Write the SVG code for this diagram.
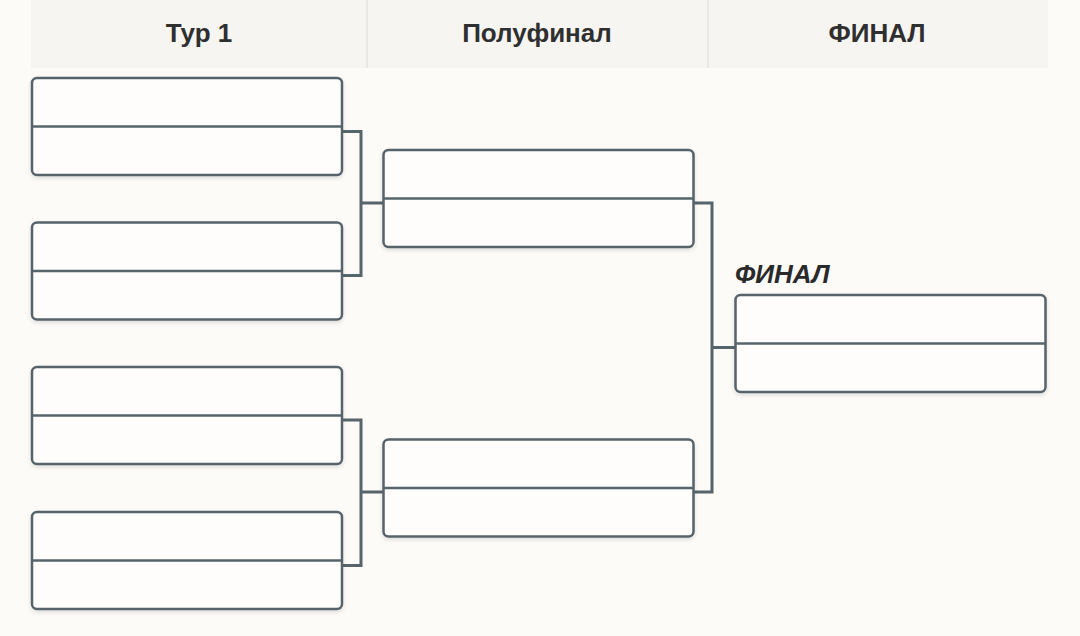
<svg xmlns="http://www.w3.org/2000/svg" width="1080" height="636" viewBox="0 0 1080 636">
<style>
.hdr{fill:#f7f5f2}
.sep{stroke:#e6e3df;stroke-width:1.5}
.ht{font-family:"Liberation Sans",Arial,sans-serif;font-weight:bold;font-size:26px;fill:#2f2f2f;text-anchor:middle}
.box{fill:#fefdfb;stroke:#56646b;stroke-width:2.5}
.div{stroke:#56646b;stroke-width:2.5}
.con{fill:none;stroke:#56646b;stroke-width:3}
.lbl{font-family:"Liberation Sans",Arial,sans-serif;font-weight:bold;font-style:italic;font-size:26px;fill:#2a2a2a}
</style>
<defs>
<filter id="sh" x="-5%" y="-10%" width="110%" height="130%">
<feDropShadow dx="0" dy="2" stdDeviation="2" flood-color="#000" flood-opacity="0.12"/>
</filter>
<g id="m">
<rect class="box" x="0" y="0" width="310" height="97" rx="5" filter="url(#sh)"/>
<line class="div" x1="0" y1="48.5" x2="310" y2="48.5"/>
</g>
</defs>
<rect width="1080" height="636" fill="#fdfbf8"/>
<g id="header">
<rect class="hdr" x="31" y="0" width="1017" height="68"/>
<line class="sep" x1="367" y1="0" x2="367" y2="68"/>
<line class="sep" x1="708" y1="0" x2="708" y2="68"/>
<text class="ht" x="199" y="42">Тур 1</text>
<text class="ht" x="537" y="42">Полуфинал</text>
<text class="ht" x="877" y="42">ФИНАЛ</text>
</g>
<g id="connectors">
<path class="con" d="M342 131.5 H361 V275.5 H342 M361 203 H383"/>
<path class="con" d="M342 420 H361 V565.5 H342 M361 492 H383"/>
<path class="con" d="M693 203 H712 V492 H693 M712 347.5 H735"/>
</g>
<g id="r1m1"><use href="#m" x="32" y="78"/></g>
<g id="r1m2"><use href="#m" x="32" y="222.5"/></g>
<g id="r1m3"><use href="#m" x="32" y="367"/></g>
<g id="r1m4"><use href="#m" x="32" y="512"/></g>
<g id="sf1"><use href="#m" x="383.5" y="150"/></g>
<g id="sf2"><use href="#m" x="383.5" y="439.5"/></g>
<g id="final">
<text class="lbl" x="735" y="283">ФИНАЛ</text>
<use href="#m" x="735.5" y="295"/>
</g>
</svg>
